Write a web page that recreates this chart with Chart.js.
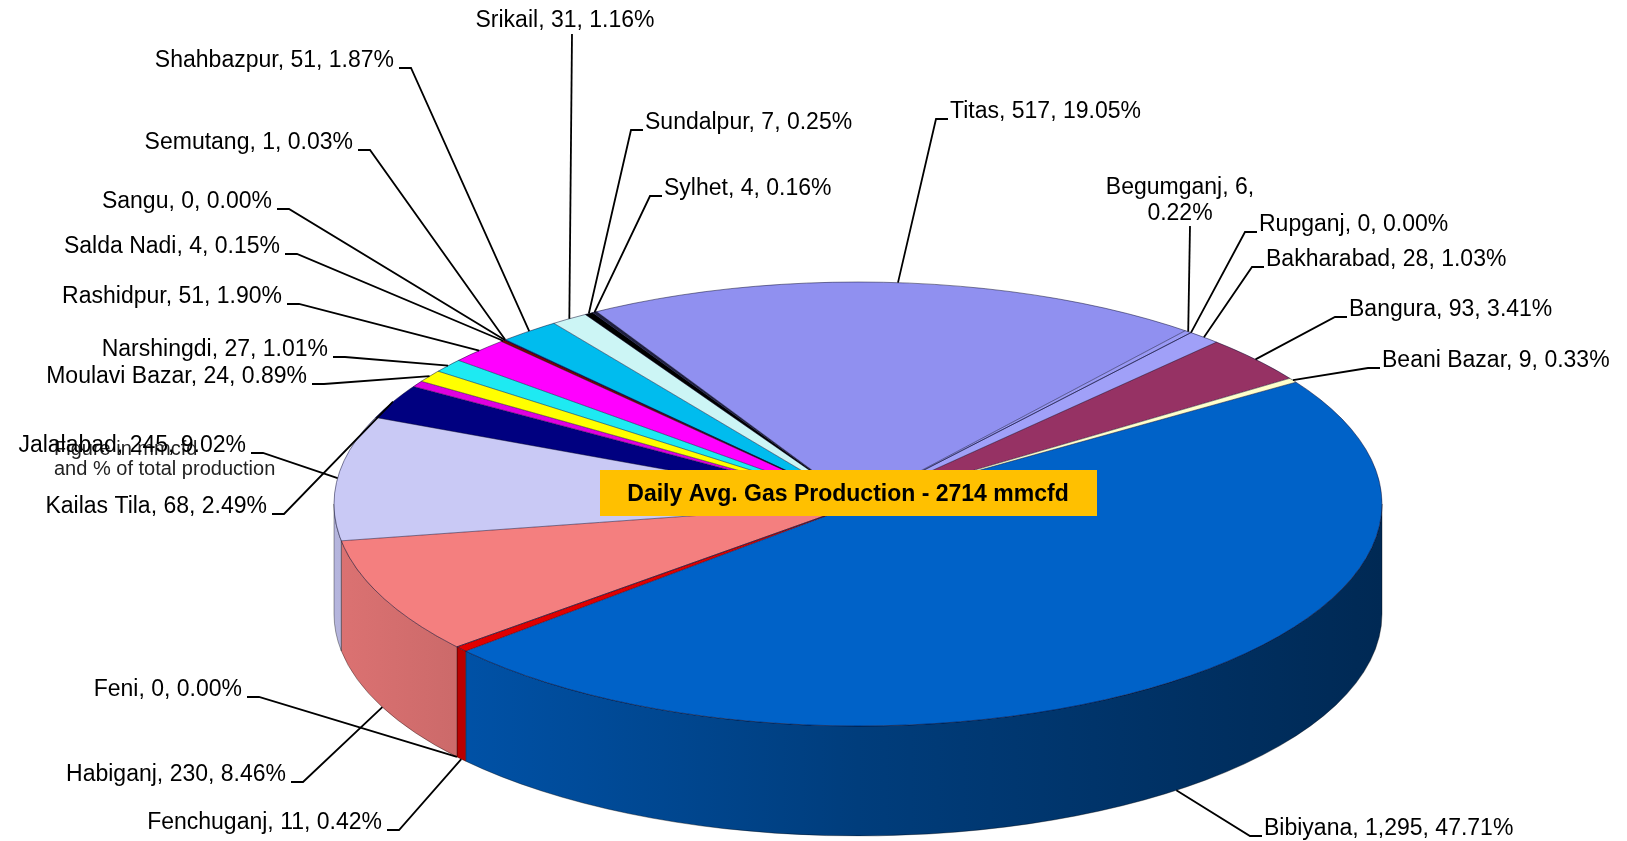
<!DOCTYPE html>
<html><head><meta charset="utf-8">
<script src="https://cdn.jsdelivr.net/npm/chart.js@4.4.1/dist/chart.umd.min.js"></script>
<style>html,body{margin:0;padding:0;background:#fff;overflow:hidden}#wrap{position:relative;width:1627px;height:841px}</style>
</head><body><div id="wrap"><canvas id="c" width="1627" height="841"></canvas></div>
<script>
// ---- data ----
const fields = ['Bakharabad','Bangura','Beani Bazar','Bibiyana','Fenchuganj','Feni','Habiganj','Jalalabad','Kailas Tila','','Moulavi Bazar','Narshingdi','Rashidpur','Salda Nadi','Sangu','Semutang','Shahbazpur','Srikail','Sundalpur','Sylhet','Titas','Begumganj','Rupganj'];
const mmcfd = [28,93,9,1295,11,0,230,245,68,12,24,27,51,4,0,1,51,31,7,4,517,6,0];
const sharePct = [1.03,3.41,0.33,47.71,0.42,0.00,8.46,9.02,2.49,0.44,0.89,1.01,1.90,0.15,0.00,0.03,1.87,1.16,0.25,0.16,19.05,0.22,0.00];
const totalProduction = 2714;
const titleText = 'Daily Avg. Gas Production - ' + totalProduction + ' mmcfd';
const noteLines = ['Figure in mmcfd', 'and % of total production'];

// ---- styles ----
const sliceColors = ['#A0A0F8','#963264','#FFFFCC','#0062C8','#E00000','#FF8080','#F47F7F','#C9C9F5','#000080','#E000E0','#FFFF00','#1EEAF2','#FF00FF','#800000','#008080','#0000FF','#00BCEE','#CCF5F5','#000000','#202040','#9090F0','#9A9AF5','#9999FF'];
const CX = 858, CY = 504, RX = 524, RY = 222, DEPTH = 110;
const ROT = 39.46;
const labelLayout = {
  'Shahbazpur':{x:394,y:67,a:'right'}, 'Semutang':{x:353,y:149,a:'right'}, 'Sangu':{x:272,y:208,a:'right'},
  'Salda Nadi':{x:280,y:253,a:'right'}, 'Rashidpur':{x:282,y:303,a:'right'}, 'Narshingdi':{x:328,y:356,a:'right'},
  'Moulavi Bazar':{x:307,y:383,a:'right'}, 'Jalalabad':{x:246,y:452,a:'right'}, 'Kailas Tila':{x:267,y:513,a:'right'},
  'Feni':{x:242,y:696,a:'right'}, 'Habiganj':{x:286,y:781,a:'right'}, 'Fenchuganj':{x:382,y:829,a:'right'},
  'Bibiyana':{x:1264,y:835,a:'left'}, 'Beani Bazar':{x:1382,y:367,a:'left'}, 'Bangura':{x:1349,y:316,a:'left'},
  'Bakharabad':{x:1266,y:266,a:'left'}, 'Rupganj':{x:1259,y:231,a:'left'}, 'Titas':{x:950,y:118,a:'left'},
  'Sundalpur':{x:645,y:129,a:'left'}, 'Sylhet':{x:664,y:195,a:'left'},
  'Srikail':{x:565,y:27,a:'center'}, 'Begumganj':{x:1180,y:194,a:'center',wrap:true}
};
const FONT = '23px "Liberation Sans", Arial, sans-serif';

function shade(hex, f){
  const n = parseInt(hex.slice(1),16);
  const r = Math.round(((n>>16)&255)*f), g = Math.round(((n>>8)&255)*f), b = Math.round((n&255)*f);
  return 'rgb('+r+','+g+','+b+')';
}
const TAU = Math.PI*2;
function norm(a){ a %= TAU; if (a < 0) a += TAU; return a; }

const pie3d = {
  id: 'pie3d',
  beforeDatasetsDraw(chart){
    const ctx = chart.ctx, meta = chart.getDatasetMeta(0);
    const cols = chart.data.datasets[0].backgroundColor;
    ctx.save();
    meta.data.forEach((arc, i) => {
      const p = arc.getProps(['startAngle','endAngle'], true);
      const s = norm(p.startAngle), e = s + (p.endAngle - p.startAngle);
      for (const k of [0,1]) {
        const lo = k*TAU, hi = k*TAU + Math.PI;
        const a = Math.max(s, lo), b = Math.min(e, hi);
        if (b - a <= 1e-6) continue;
        const a0 = a - k*TAU, b0 = b - k*TAU;
        const g = ctx.createLinearGradient(CX-RX, 0, CX+RX, 0);
        g.addColorStop(0, shade(cols[i], 0.9));
        g.addColorStop(0.5, shade(cols[i], 0.62));
        g.addColorStop(1, shade(cols[i], 0.42));
        ctx.beginPath();
        ctx.ellipse(CX, CY, RX, RY, 0, a0, b0, false);
        ctx.ellipse(CX, CY+DEPTH, RX, RY, 0, b0, a0, true);
        ctx.closePath();
        ctx.fillStyle = g; ctx.fill();
        ctx.lineWidth = 0.8; ctx.strokeStyle = 'rgba(0,0,0,0.45)'; ctx.stroke();
      }
    });
    ctx.restore();
    const a0 = meta.data[0];
    ctx.save();
    ctx.translate(CX, CY);
    ctx.scale(RX / a0.outerRadius, RY / a0.outerRadius);
    ctx.translate(-a0.x, -a0.y);
  },
  afterDatasetsDraw(chart){
    const ctx = chart.ctx, meta = chart.getDatasetMeta(0);
    ctx.restore();
    ctx.save();
    ctx.lineWidth = 0.8; ctx.strokeStyle = 'rgba(0,0,40,0.6)';
    meta.data.forEach(arc => {
      const t = arc.getProps(['startAngle'], true).startAngle;
      ctx.beginPath(); ctx.moveTo(CX, CY);
      ctx.lineTo(CX + RX*Math.cos(t), CY + RY*Math.sin(t)); ctx.stroke();
    });
    ctx.beginPath(); ctx.ellipse(CX, CY, RX, RY, 0, 0, TAU); ctx.stroke();
    ctx.restore();
  },
  afterDraw(chart){
    const ctx = chart.ctx, meta = chart.getDatasetMeta(0);
    ctx.save();
    // note text
    ctx.font = '20px "Liberation Sans", Arial, sans-serif';
    ctx.fillStyle = '#222'; ctx.textAlign = 'left'; ctx.textBaseline = 'alphabetic';
    ctx.fillText(noteLines[0], 54, 455);
    ctx.fillText(noteLines[1], 54, 475);
    // labels + leaders
    ctx.font = FONT; ctx.fillStyle = '#000';
    ctx.strokeStyle = '#000'; ctx.lineWidth = 1.8;
    meta.data.forEach((arc, i) => {
      const name = chart.data.labels[i];
      const L = labelLayout[name];
      if (!name || !L) return;
      const p = arc.getProps(['startAngle','endAngle'], true);
      const m = norm((p.startAngle + p.endAngle)/2);
      let ax = CX + RX*Math.cos(m), ay = CY + RY*Math.sin(m);
      if (m <= Math.PI) ay += DEPTH;
      const val = mmcfd[i].toLocaleString('en-US');
      const pct = sharePct[i].toFixed(2) + '%';
      ctx.beginPath();
      if (L.a === 'right') {
        ctx.moveTo(L.x + 5, L.y + 1); ctx.lineTo(L.x + 17, L.y + 1); ctx.lineTo(ax, ay);
      } else if (L.a === 'left') {
        ctx.moveTo(L.x - 2, L.y + 1); ctx.lineTo(L.x - 14, L.y + 1); ctx.lineTo(ax, ay);
      } else {
        const by = L.wrap ? L.y + 32 : L.y + 7;
        ctx.moveTo(L.wrap ? L.x + 10 : L.x + 7, by); ctx.lineTo(ax, ay);
      }
      ctx.stroke();
      ctx.textAlign = L.a;
      if (L.wrap) {
        ctx.fillText(name + ', ' + val + ',', L.x, L.y);
        ctx.fillText(pct, L.x, L.y + 26);
      } else {
        ctx.fillText(name + ', ' + val + ', ' + pct, L.x, L.y);
      }
    });
    // title box
    ctx.fillStyle = '#FFC000';
    ctx.fillRect(600, 470, 497, 46);
    ctx.fillStyle = '#000'; ctx.textAlign = 'center';
    ctx.font = 'bold 23px "Liberation Sans", Arial, sans-serif';
    ctx.fillText(titleText, 848, 501);
    ctx.restore();
  }
};

new Chart(document.getElementById('c'), {
  type: 'pie',
  data: { labels: fields, datasets: [{ data: mmcfd, backgroundColor: sliceColors, borderWidth: 0, hoverOffset: 0, clip: false }] },
  options: {
    responsive: false, animation: false, events: [], rotation: ROT,
    devicePixelRatio: 1,
    layout: { padding: 0 },
    plugins: { legend: { display: false }, tooltip: { enabled: false }, title: { display: false } }
  },
  plugins: [pie3d]
});
</script></body></html>
